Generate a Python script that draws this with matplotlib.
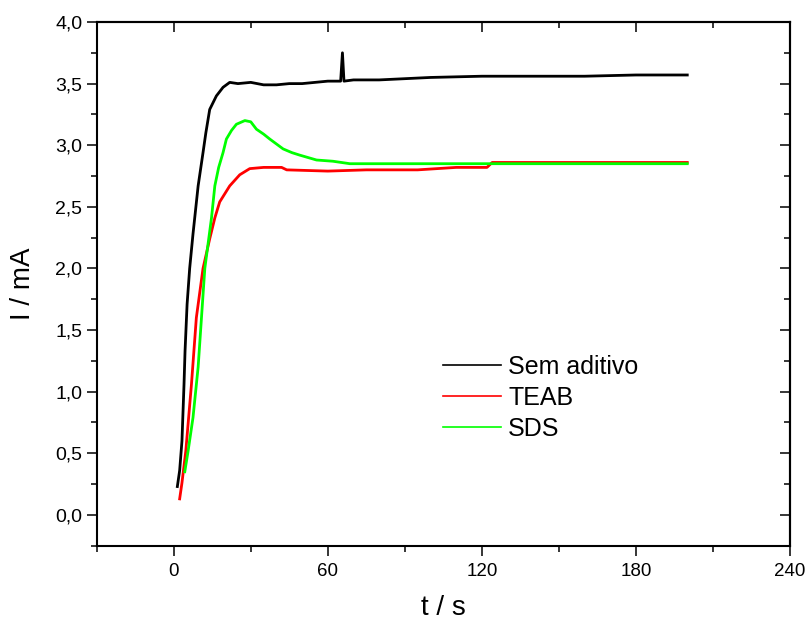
import numpy as np
import matplotlib.pyplot as plt
from matplotlib.lines import Line2D
from matplotlib.ticker import MultipleLocator, FuncFormatter

plt.rcParams['font.family'] = ['Liberation Sans', 'DejaVu Sans']

# Sem aditivo
black_t = [1.4, 2.3, 3.2, 4.0, 4.4, 5.2, 6.2, 7.5, 9.5, 11.4, 12.5, 14, 16.6, 19.2, 21.8,
           25, 30, 35, 40, 45, 50, 55, 60, 65, 65.7, 66.3, 70, 80, 90, 100, 120, 140,
           160, 180, 200]
black_I = [0.23, 0.36, 0.60, 1.06, 1.33, 1.71, 2.00, 2.28, 2.67, 2.94, 3.10, 3.29, 3.40,
           3.47, 3.51, 3.50, 3.51, 3.49, 3.49, 3.50, 3.50, 3.51, 3.52, 3.52, 3.75, 3.52,
           3.53, 3.53, 3.54, 3.55, 3.56, 3.56, 3.56, 3.57, 3.57]

# TEAB
red_t = [2.3, 3.2, 4.7, 6.9, 8.8, 11.4, 14, 16, 17.9, 21.8, 25.7, 29.6, 35, 42, 44, 60,
         75, 95, 110, 122, 124, 150, 175, 200]
red_I = [0.13, 0.26, 0.52, 1.06, 1.60, 2.00, 2.24, 2.41, 2.54, 2.67, 2.76, 2.81, 2.82,
         2.82, 2.80, 2.79, 2.80, 2.80, 2.82, 2.82, 2.86, 2.86, 2.86, 2.86]

# SDS
green_t = [4.3, 5.6, 7.5, 9.5, 10.8, 12.1, 14.7, 16, 17.5, 19.2, 20.5, 22.5, 24.4, 27.7,
           30, 32.2, 35, 37.4, 40, 42.6, 46, 49, 55.6, 62, 68.6, 80, 100, 130, 160, 200]
green_I = [0.35, 0.52, 0.79, 1.20, 1.60, 2.00, 2.41, 2.67, 2.82, 2.94, 3.05, 3.12, 3.17,
           3.20, 3.19, 3.13, 3.09, 3.05, 3.01, 2.97, 2.94, 2.92, 2.88, 2.87, 2.85, 2.85,
           2.85, 2.85, 2.85, 2.85]

names = ['Sem aditivo', 'TEAB', 'SDS']
colors = ['#000000', '#ff0000', '#00ff00']

fig = plt.figure(figsize=(8.08, 6.25), dpi=100)
ax = fig.add_axes([0.1197, 0.1269, 0.858, 0.8379])

ax.plot(black_t, black_I, color=colors[0], lw=2.0)
ax.plot(red_t, red_I, color=colors[1], lw=2.0)
ax.plot(green_t, green_I, color=colors[2], lw=2.0)

ax.set_xlim(-30, 240)
ax.set_ylim(-0.25, 4.0)
ax.xaxis.set_major_locator(MultipleLocator(60))
ax.xaxis.set_minor_locator(MultipleLocator(30))
ax.yaxis.set_major_locator(MultipleLocator(0.5))
ax.yaxis.set_minor_locator(MultipleLocator(0.25))
ax.yaxis.set_major_formatter(FuncFormatter(lambda v, p: f'{v:.1f}'.replace('.', ',')))

for s in ax.spines.values():
    s.set_linewidth(1.5)
ax.tick_params(which='major', direction='out', length=7.5, width=1.1)
ax.tick_params(which='minor', direction='out', length=4, width=1.1)
ax.tick_params(axis='x', labelsize=13.5, pad=5)
ax.tick_params(axis='y', labelsize=14, pad=3)

# top and right: ticks pointing inward, no labels
top = ax.secondary_xaxis('top')
top.xaxis.set_major_locator(MultipleLocator(60))
top.xaxis.set_minor_locator(MultipleLocator(30))
top.tick_params(which='major', direction='in', length=7.5, width=1.1, labeltop=False)
top.tick_params(which='minor', direction='in', length=4, width=1.1)
top.spines['top'].set_linewidth(1.5)
right = ax.secondary_yaxis('right')
right.yaxis.set_major_locator(MultipleLocator(0.5))
right.yaxis.set_minor_locator(MultipleLocator(0.25))
right.tick_params(which='major', direction='in', length=7.5, width=1.1, labelright=False)
right.tick_params(which='minor', direction='in', length=4, width=1.1)
right.spines['right'].set_linewidth(1.5)

ax.set_xlabel('t / s', fontsize=20, labelpad=11)
ax.set_ylabel('I / mA', fontsize=20, labelpad=14)

handles = [Line2D([], [], color=c, lw=1.2) for c in colors]
ax.legend(handles, names, loc='upper left', bbox_to_anchor=(0.533, 0.452),
          bbox_transform=fig.transFigure, frameon=False, fontsize=18,
          borderpad=0, handlelength=2.3, handletextpad=0.3, labelspacing=0.28)

fig.savefig('out.png', dpi=100)
